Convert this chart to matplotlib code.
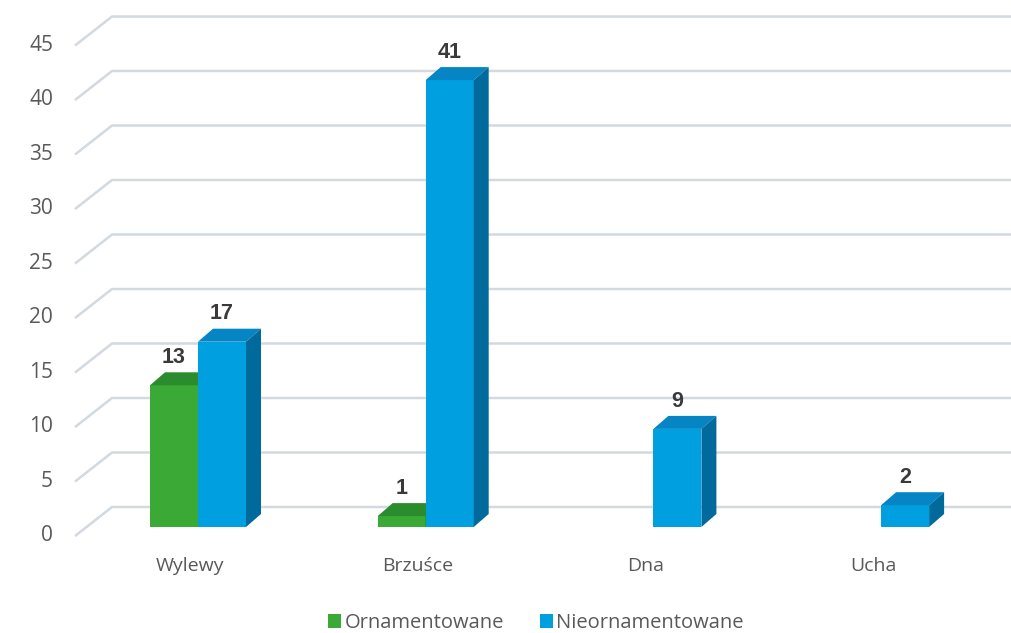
import matplotlib.pyplot as plt
from matplotlib.patches import Polygon, Rectangle, Patch

# Data
categories = ['Wylewy', 'Brzuśce', 'Dna', 'Ucha']
ornamentowane = [13, 1, 0, 0]
nieornamentowane = [17, 41, 9, 2]
series_names = ['Ornamentowane', 'Nieornamentowane']
y_ticks = list(range(0, 50, 5))

# Colours (front, top, side)
green = ('#3aa935', '#2a8c2c', '#1f6e22')
blue = ('#009fe0', '#0585c4', '#006a9c')
grid_col = '#d2d9df'
text_col = '#595959'

# geometry in data units (x: category, y: value)
px_x = 227.7      # pixels per category
px_y = 10.9       # pixels per unit value
bar_w = 48 / px_x
bar_dx = 15 / px_x
bar_dy = 13 / px_y

fig = plt.figure(figsize=(10.12, 6.33), dpi=100)
ax = fig.add_axes([0, 0, 1, 1])
ax.set_xlim(-198 / px_x, (1012 - 198) / px_x)
ax.set_ylim((527 - 633) / px_y, 527 / px_y)
ax.axis('off')

# perspective gridlines
gx0, gx1 = (75 - 198) / px_x, (112 - 198) / px_x
for v in y_ticks:
    ax.plot([gx0, gx1, 3.6], [v - 0.83, v + 1.835, v + 1.835],
            color=grid_col, lw=1.8, zorder=1, solid_capstyle='butt')
    ax.text((53 - 198) / px_x, v - 0.8, str(v), ha='right', va='center',
            fontsize=15, color=text_col, family='Open Sans')


def bar3d(x0, v, cols):
    front, top, side = cols
    ax.add_patch(Rectangle((x0, 0), bar_w, v, facecolor=front, edgecolor='none', zorder=3))
    ax.add_patch(Polygon([(x0, v), (x0 + bar_dx, v + bar_dy), (x0 + bar_w + bar_dx, v + bar_dy),
                          (x0 + bar_w, v)], closed=True, facecolor=top, edgecolor='none', zorder=3))
    ax.add_patch(Polygon([(x0 + bar_w, 0), (x0 + bar_w + bar_dx, bar_dy), (x0 + bar_w + bar_dx, v + bar_dy),
                          (x0 + bar_w, v)], closed=True, facecolor=side, edgecolor='none', zorder=3))
    ax.text(x0 + bar_w / 2, v + bar_dy + 0.4, str(v), ha='center', va='bottom',
            fontsize=15.5, fontweight='bold', color='#3a3a3a', family='Liberation Sans', zorder=4)


for i, cat in enumerate(categories):
    if ornamentowane[i] > 0:
        bar3d(i - bar_w, ornamentowane[i], green)
    if nieornamentowane[i] > 0:
        bar3d(i, nieornamentowane[i], blue)
    ax.text(i - 0.035, -3.6, cat, ha='center', va='center', fontsize=14,
            color=text_col, family='Open Sans')

handles = [Patch(facecolor=green[0]), Patch(facecolor=blue[0])]
fig.legend(handles, series_names, loc='center', bbox_to_anchor=(536 / 1012, 1 - 623 / 633), ncol=2,
           frameon=False, handlelength=0.65, handleheight=0.65, handletextpad=0.15, columnspacing=1.8,
           prop={'family': 'Open Sans', 'size': 14.5}, labelcolor=text_col)

fig.savefig('out.png', dpi=100, facecolor='white')
